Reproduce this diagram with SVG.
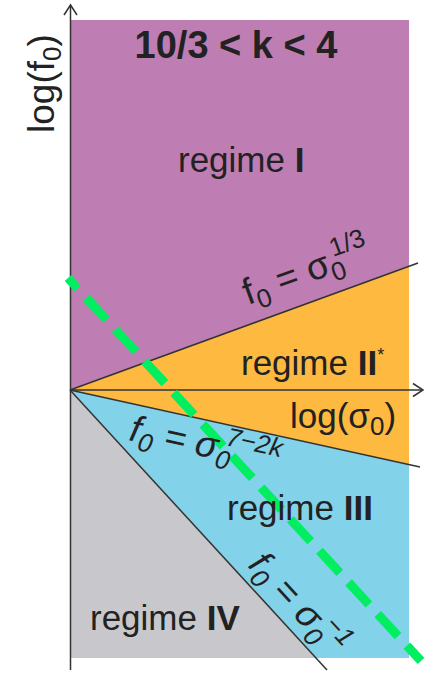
<svg xmlns="http://www.w3.org/2000/svg" width="424" height="673" viewBox="0 0 424 673">
<style>
text{font-family:"Liberation Sans",Arial,Helvetica,sans-serif;fill:#222;}
.r{font-size:35px;}
.b{font-weight:bold;}
.f{font-size:37px;}
.s{font-size:26px;}
.ln{stroke:#333;stroke-width:1.5;fill:none;}
</style>
<rect width="424" height="673" fill="#fff"/>
<g id="regions">
<polygon id="regime-I" points="71,20 409,20 409,266.3 70,390" fill="#BE7DB3"/>
<polygon id="regime-II" points="70,390 409,266.3 409,464.6" fill="#FDB940"/>
<polygon id="regime-III" points="70,390 409,464.6 409,658 316,658" fill="#82D2EA"/>
<polygon id="regime-IV" points="71,390 316,658 71,658" fill="#C8C8CC"/>
</g>
<g id="connectors">
<line class="ln" x1="70" y1="390" x2="418" y2="263"/>
<line class="ln" x1="70" y1="390" x2="420" y2="467"/>
<line class="ln" x1="70" y1="390" x2="327" y2="670"/>
<line class="ln" x1="70.5" y1="670" x2="70.5" y2="5"/>
<polyline class="ln" points="64,15 70.5,5 77,15"/>
<line class="ln" x1="70" y1="390" x2="423" y2="390"/>
<polyline class="ln" points="413,383.5 423,390 413,396.5"/>
<line x1="68" y1="278" x2="421" y2="661" stroke="#00EE5F" stroke-width="9" stroke-dasharray="30 13" stroke-dashoffset="16"/>
</g>
<g id="labels">
<text class="b" x="236" y="58" font-size="38" text-anchor="middle">10/3 &lt; k &lt; 4</text>
<text class="r" x="178" y="172">regime <tspan class="b">I</tspan></text>
<text class="r" x="241" y="375">regime <tspan class="b">II</tspan><tspan font-size="18" dy="-14">*</tspan></text>
<text class="r" x="290" y="428">log(σ<tspan class="s" dy="7">0</tspan><tspan dy="-7">)</tspan></text>
<text class="r" x="227" y="520">regime <tspan class="b">III</tspan></text>
<text class="r" x="90" y="630">regime <tspan class="b">IV</tspan></text>
<text font-size="37" transform="translate(54,133) rotate(-90)">log(f<tspan class="s" dy="7">0</tspan><tspan dy="-7">)</tspan></text>
<text class="f" transform="translate(248,305) rotate(-20)">f<tspan class="s" dy="8">0</tspan><tspan dy="-8"> = σ</tspan><tspan class="s" dy="8">0</tspan><tspan class="s" dx="-8" dy="-24">1/3</tspan></text>
<text class="f" font-style="italic" font-size="38" transform="translate(128,440) rotate(12.4)">f<tspan class="s" dy="8">0</tspan><tspan dy="-8"> = σ</tspan><tspan class="s" dy="8">0</tspan><tspan class="s" dx="-8" dy="-24">7−2k</tspan></text>
<text class="f" font-style="italic" transform="translate(247,566) rotate(47.5)">f<tspan class="s" dy="8">0</tspan><tspan dy="-8"> = σ</tspan><tspan class="s" dy="8">0</tspan><tspan class="s" dx="-8" dy="-24">−1</tspan></text>
</g>
</svg>
